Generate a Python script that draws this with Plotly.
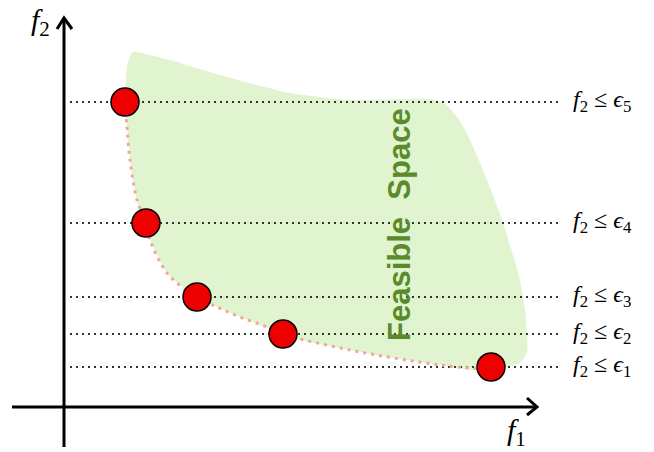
import plotly.graph_objects as go

# Coordinates: f1 to the right, f2 upward, origin at axes crossing
# Pareto-optimal points (epsilon-constraint solutions)
pareto_f1 = [61, 82, 133, 219, 427]
pareto_f2 = [305, 184, 110, 73, 40]
eps_labels = ["5", "4", "3", "2", "1"]

# Feasible region boundary
region_f1 = [69, 86, 109, 156, 226, 286, 336, 366, 381, 394, 406, 416, 429, 439, 448,
             456, 461, 463, 463, 456, 436, 409, 376, 336, 286, 236, 219, 196, 176, 153,
             133, 116, 103, 86, 73, 66, 63, 61, 62, 64]
region_f2 = [355, 352, 346, 332, 314, 307, 308, 308, 303, 289, 267, 244, 212, 184, 155,
             127, 97, 74, 55, 44, 39, 37, 42, 48, 57, 67, 72, 82, 90, 100,
             110, 122, 134, 167, 207, 247, 280, 304, 327, 345]

# Pareto front curve
front_f1 = [61, 63, 66, 73, 82, 86, 103, 126, 133, 153, 176, 203, 219, 286, 376, 415]
front_f2 = [304, 280, 247, 207, 184, 167, 134, 114, 110, 100, 90, 80, 73, 57, 42, 38]

line_start, line_end = 6, 498
label_f1 = 507

fig = go.Figure()

fig.add_trace(go.Scatter(x=region_f1 + [region_f1[0]], y=region_f2 + [region_f2[0]],
                         mode="lines", fill="toself", fillcolor="#dff4cf",
                         line=dict(color="#dff4cf", width=0, shape="spline", smoothing=0.6),
                         hoverinfo="skip", showlegend=False))

for y in pareto_f2:
    fig.add_trace(go.Scatter(x=[line_start, line_end], y=[y, y], mode="lines",
                             line=dict(color="#333333", width=1.8, dash="2px,4px"),
                             hoverinfo="skip", showlegend=False))

fig.add_trace(go.Scatter(x=front_f1, y=front_f2, mode="lines",
                         line=dict(color="#f3a59c", width=3, dash="3px,5px", shape="spline"),
                         hoverinfo="skip", showlegend=False))

# axes
ax_col = "black"
fig.add_trace(go.Scatter(x=[0, 0], y=[-40, 389], mode="lines",
                         line=dict(color=ax_col, width=3), hoverinfo="skip", showlegend=False))
fig.add_trace(go.Scatter(x=[-7, 0, 8], y=[378, 389, 378], mode="lines",
                         line=dict(color=ax_col, width=3), hoverinfo="skip", showlegend=False))
fig.add_trace(go.Scatter(x=[-52, 473], y=[0, 0], mode="lines",
                         line=dict(color=ax_col, width=3), hoverinfo="skip", showlegend=False))
fig.add_trace(go.Scatter(x=[463, 473, 463], y=[9, 0, -8], mode="lines",
                         line=dict(color=ax_col, width=3), hoverinfo="skip", showlegend=False))

fig.add_trace(go.Scatter(x=pareto_f1, y=pareto_f2, mode="markers",
                         marker=dict(size=28, color="#ee0000", line=dict(color="black", width=1.5)),
                         hoverinfo="skip", showlegend=False))

serif = "Liberation Serif, DejaVu Serif, serif"
for y, e in zip(pareto_f2, eps_labels):
    fig.add_annotation(x=label_f1, y=y + 1, xanchor="left", yanchor="middle", showarrow=False,
                       text=f"<i>f</i><sub>2</sub> ≤ <i>ϵ</i><sub>{e}</sub>",
                       font=dict(family=serif, size=24, color="black"))

fig.add_annotation(x=-24, y=385, showarrow=False, text="<i>f</i><sub>2</sub>",
                   font=dict(family=serif, size=30, color="black"))
fig.add_annotation(x=452, y=-25, showarrow=False, text="<i>f</i><sub>1</sub>",
                   font=dict(family=serif, size=30, color="black"))

fig.add_annotation(x=335, y=182, showarrow=False, textangle=-90,
                   text="Feasible\u00a0\u00a0Space",
                   font=dict(family="Liberation Sans, Arial, sans-serif", size=31,
                             color="#5a8a2a", weight="bold"))

fig.update_layout(width=654, height=452, margin=dict(l=0, r=0, t=0, b=0),
                  plot_bgcolor="white", paper_bgcolor="white",
                  xaxis=dict(range=[-64, 590], visible=False, fixedrange=True),
                  yaxis=dict(range=[-45, 407], visible=False, fixedrange=True),
                  showlegend=False)

fig.write_html("out.html", config={"displayModeBar": False},
               post_script="document.body.style.margin='0';document.body.style.overflow='hidden';")
